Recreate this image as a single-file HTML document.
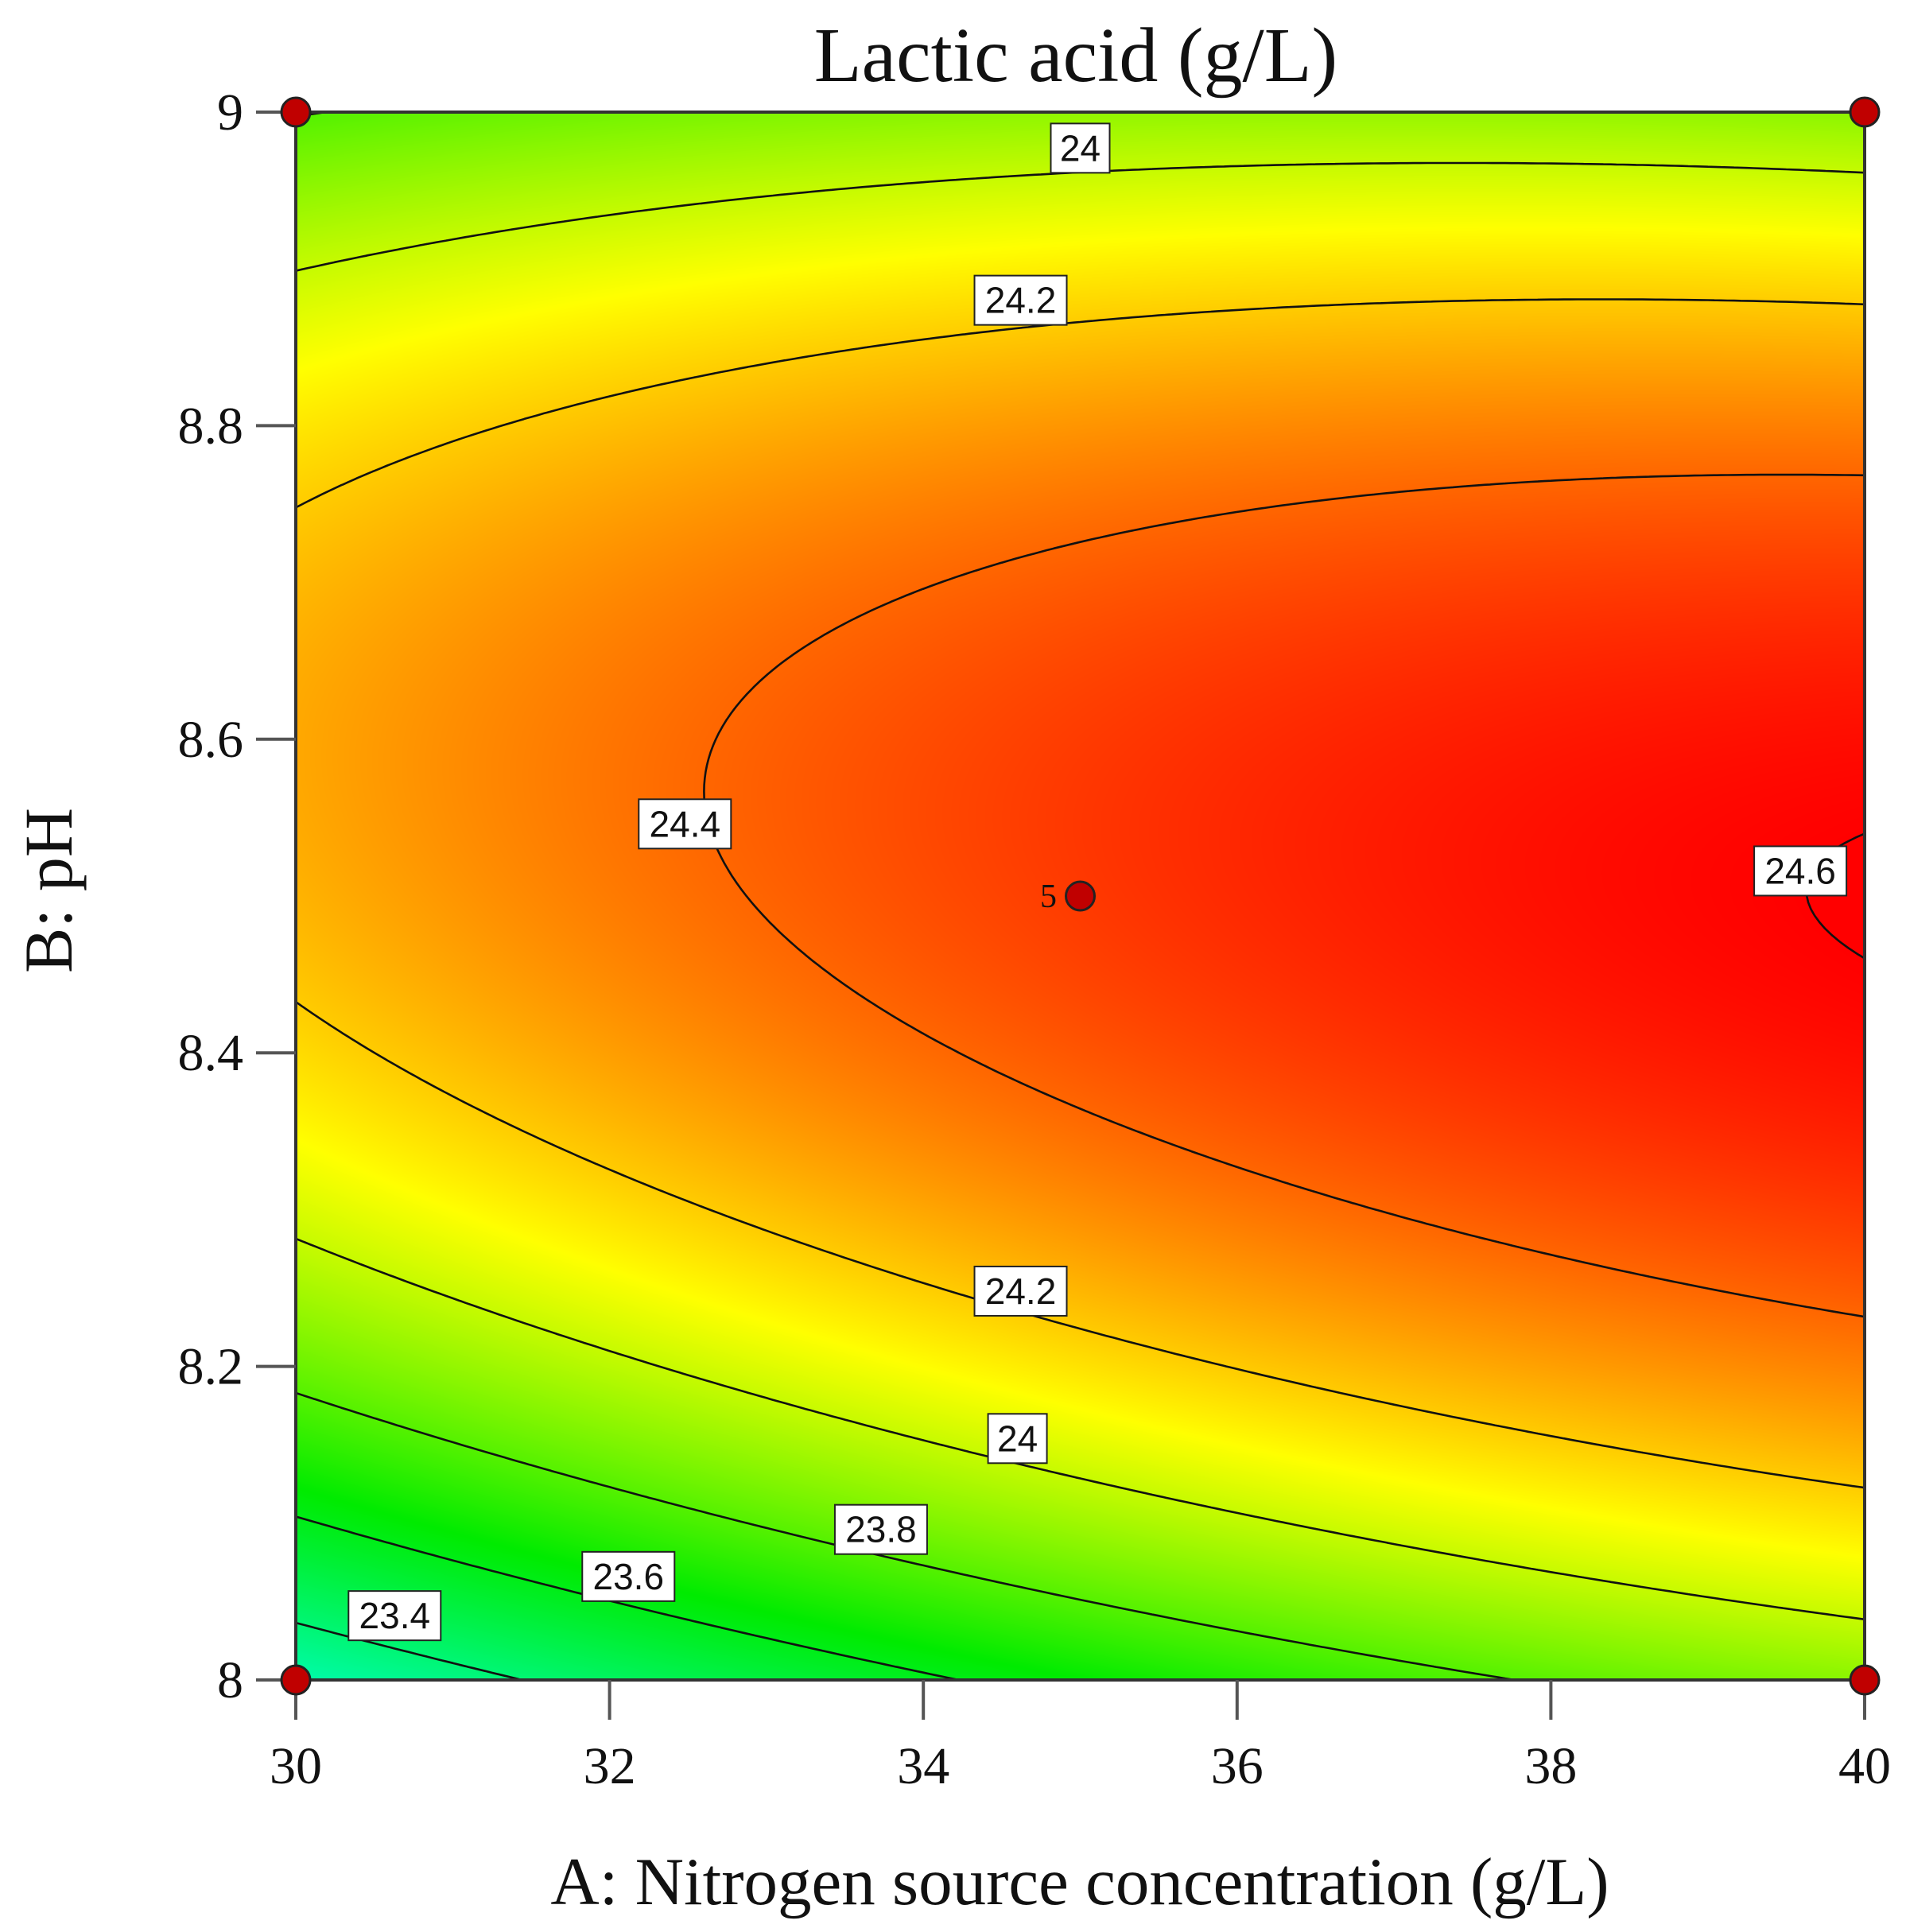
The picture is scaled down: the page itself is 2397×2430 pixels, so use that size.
<!DOCTYPE html>
<html><head><meta charset="utf-8"><style>
html,body{margin:0;padding:0;background:#fff;}
#wrap{position:relative;width:2397px;height:2430px;overflow:hidden;}
canvas,svg{position:absolute;left:0;top:0;}
text{font-family:"Liberation Serif",serif;}
</style></head><body>
<div id="wrap">
<canvas id="heat" width="2397" height="2430"></canvas>
<svg id="svg" width="2397" height="2430"></svg>
</div>
<script>
// model coefficients (coded units): b0, bA, bB, bAA, bBB, bAB
const coefs = [24.487, 0.1785, 0.128, -0.061, -0.71, -0.128];
const xTicks = [30, 32, 34, 36, 38, 40];
const yTicks = [8, 8.2, 8.4, 8.6, 8.8, 9];
const contourLevels = [23.4, 23.6, 23.8, 24, 24.2, 24.4, 24.6];
const designX = [30, 40, 30, 40, 35];
const designY = [8, 8, 9, 9, 8.5];
const labelVals = ["24","24.2","24.4","24.6","24.2","24","23.8","23.6","23.4"];
const labelX = [35, 34.62, 32.48, 39.59, 34.62, 34.6, 33.73, 32.12, 30.63];
const labelY = [8.977, 8.88, 8.546, 8.516, 8.248, 8.154, 8.096, 8.066, 8.041];

const L=372, R=2345, T=141, B=2113;
const sx = v => L + (v-30)/10*(R-L);
const sy = v => B - (v-8)/1*(B-T);
function model(A,Bv){const a=(A-35)/5,b=(Bv-8.5)/0.5;const c=coefs;
 return c[0]+c[1]*a+c[2]*b+c[3]*a*a+c[4]*b*b+c[5]*a*b;}
const stops=[[23.2,[0,255,210]],[23.65,[0,235,0]],[24.1,[255,255,0]],[24.6,[255,0,0]]];
function col(v){ if(v<=stops[0][0])return stops[0][1]; for(let i=1;i<stops.length;i++){if(v<=stops[i][0]){const t=(v-stops[i-1][0])/(stops[i][0]-stops[i-1][0]);const a=stops[i-1][1],b=stops[i][1];return [0,1,2].map(k=>Math.round(a[k]+(b[k]-a[k])*t));}} return stops[stops.length-1][1];}
const cv=document.getElementById('heat').getContext('2d');
const img=cv.createImageData(R-L,B-T);
for(let j=0;j<B-T;j++)for(let i=0;i<R-L;i++){const v=model(30+10*i/(R-L),9-j/(B-T));const c=col(v);const p=(j*(R-L)+i)*4;img.data[p]=c[0];img.data[p+1]=c[1];img.data[p+2]=c[2];img.data[p+3]=255;}
cv.putImageData(img,L,T);

const NS='http://www.w3.org/2000/svg';const svg=document.getElementById('svg');
function el(tag,attrs,parent){const e=document.createElementNS(NS,tag);for(const k in attrs)e.setAttribute(k,attrs[k]);(parent||svg).appendChild(e);return e;}
const N=240;const grid=[];
for(let j=0;j<=N;j++){grid[j]=[];for(let i=0;i<=N;i++)grid[j][i]=model(30+10*i/N,8+j/N);}
contourLevels.forEach(lv=>{let d='';
 for(let j=0;j<N;j++)for(let i=0;i<N;i++){
  const v=[grid[j][i],grid[j][i+1],grid[j+1][i+1],grid[j+1][i]];
  const P=[[i,j],[i+1,j],[i+1,j+1],[i,j+1]];const pts=[];
  for(let e=0;e<4;e++){const a=v[e],b=v[(e+1)%4];if((a<lv)!==(b<lv)){const t=(lv-a)/(b-a);const p0=P[e],p1=P[(e+1)%4];pts.push([p0[0]+(p1[0]-p0[0])*t,p0[1]+(p1[1]-p0[1])*t]);}}
  for(let k=0;k+1<pts.length;k+=2){const x1=sx(30+10*pts[k][0]/N),y1=sy(8+pts[k][1]/N),x2=sx(30+10*pts[k+1][0]/N),y2=sy(8+pts[k+1][1]/N);d+=`M${x1.toFixed(1)} ${y1.toFixed(1)}L${x2.toFixed(1)} ${y2.toFixed(1)}`;}
 }
 const p=el('path',{d:d,stroke:'#111',fill:'none','stroke-width':2.6,'stroke-linecap':'round'});
 
 
});
const fr=el('rect',{x:L,y:T,width:R-L,height:B-T,fill:'none',stroke:'#333','stroke-width':4});


xTicks.forEach(t=>{const x=sx(t);
 const ln=el('line',{x1:x,y1:B,x2:x,y2:B+50,stroke:'#555','stroke-width':4});
 
 
 const tx=el('text',{x:x,y:2243,'font-size':66,'text-anchor':'middle',fill:'#111'});tx.textContent=t;
 
 
});
yTicks.forEach(t=>{const y=sy(t);
 const ln=el('line',{x1:L-50,y1:y,x2:L,y2:y,stroke:'#555','stroke-width':4});
 
 
 const tx=el('text',{x:306,y:y+22,'font-size':66,'text-anchor':'end',fill:'#111'});tx.textContent=t;
 
 
});
labelVals.forEach((s,k)=>{const x=sx(labelX[k]),y=sy(labelY[k]);const w=s.length>2?116:74;
 const g=el('g',{});
 
 
 el('rect',{x:x-w/2,y:y-31,width:w,height:62,fill:'#fff',stroke:'#222','stroke-width':2},g);
 const tx=el('text',{x:x,y:y+16,'font-size':46,'text-anchor':'middle',fill:'#111',style:'font-family:"Liberation Sans",sans-serif'},g);tx.textContent=s;
});
designX.forEach((dx,k)=>{const c=el('circle',{cx:sx(dx),cy:sy(designY[k]),r:18,fill:'#c00000',stroke:'#222','stroke-width':3});
 
 
});
const five=el('text',{x:sx(35)-40,y:sy(8.5)+14,'font-size':42,'text-anchor':'middle',fill:'#111'});five.textContent='5';


const tt=el('text',{x:1353,y:102,'font-size':98,'text-anchor':'middle',fill:'#111'});tt.textContent='Lactic acid (g/L)';


const xt=el('text',{x:1358,y:2395,'font-size':85,'text-anchor':'middle',fill:'#111'});xt.textContent='A: Nitrogen source concentration (g/L)';


const yt=el('text',{x:0,y:0,'font-size':86,'text-anchor':'middle',fill:'#111',transform:'translate(90 1120) rotate(-90)'});yt.textContent='B: pH';


</script>
</body></html>
